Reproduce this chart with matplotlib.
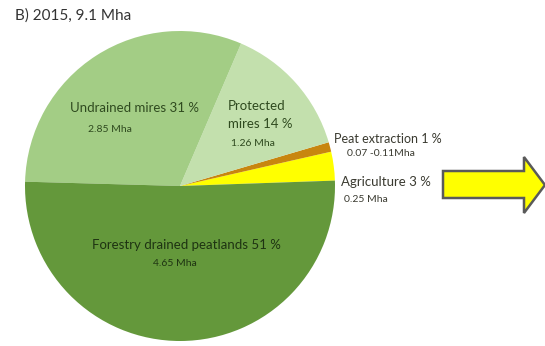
import matplotlib
matplotlib.use("Agg")
import matplotlib.pyplot as plt
from matplotlib.patches import Polygon

plt.rcParams['font.family'] = ['Lato', 'DejaVu Sans']

# Land use of peatlands, 2015 (share of 9.1 Mha)
categories = ["Agriculture", "Peat extraction", "Protected mires",
              "Undrained mires", "Forestry drained peatlands"]
shares = [3, 1, 14, 31, 51]
areas = ["0.25 Mha", "0.07 -0.11Mha", "1.26 Mha", "2.85 Mha", "4.65 Mha"]
colors = ["#ffff00", "#c8860f", "#c3e0ad", "#a3cd85", "#64983b"]

W, H = 545, 346
fig = plt.figure(figsize=(W / 100, H / 100), dpi=100)
ax = fig.add_axes([0, 0, 1, 1])
ax.set_xlim(0, W)
ax.set_ylim(0, H)
ax.set_aspect('equal')
ax.axis('off')


def py(y):
    # convert a top-down pixel row to axes y
    return H - y


ax.pie(shares, colors=colors, startangle=2, counterclock=True,
       center=(180, py(186)), radius=155, frame=True,
       wedgeprops=dict(linewidth=0))
ax.set_xlim(0, W)
ax.set_ylim(0, H)
ax.axis('off')

ax.text(15, py(16), "B) 2015, 9.1 Mha", fontsize=11, color="#333333",
        ha='left', va='center')

lbl = "#2f4a1f"
ax.text(134, py(108), f"{categories[3]} {shares[3]} %", fontsize=9.5,
        color=lbl, ha='center', va='center')
ax.text(110, py(129), areas[3], fontsize=7.5, color=lbl,
        ha='center', va='center')

ax.text(228, py(106), "Protected", fontsize=9.5, color=lbl,
        ha='left', va='center')
ax.text(228, py(124), f"mires {shares[2]} %", fontsize=9.5, color=lbl,
        ha='left', va='center')
ax.text(231, py(143), areas[2], fontsize=7.5, color=lbl,
        ha='left', va='center')

side = "#3a3a30"
ax.text(334, py(139), f"{categories[1]} {shares[1]} %", fontsize=9,
        color=side, ha='left', va='center')
ax.text(347, py(154), areas[1], fontsize=7.5, color=side,
        ha='left', va='center')
ax.text(341, py(182), f"{categories[0]} {shares[0]} %", fontsize=9.5,
        color=side, ha='left', va='center')
ax.text(344, py(200), areas[0], fontsize=7.5, color=side,
        ha='left', va='center')

dark = "#1e3312"
ax.text(186, py(245), f"{categories[4]} {shares[4]} %", fontsize=9.5,
        color=dark, ha='center', va='center')
ax.text(175, py(263), areas[4], fontsize=7.5, color=dark,
        ha='center', va='center')

# block arrow pointing right
arrow_pts = [(443, 171), (524, 171), (524, 157), (545, 185),
             (524, 213), (524, 198), (443, 198)]
ax.add_patch(Polygon([(x, py(y)) for x, y in arrow_pts], closed=True,
                     facecolor="#ffff00", edgecolor="#5a5a5a",
                     linewidth=1.8, clip_on=False))

fig.savefig("out.png", dpi=100)
